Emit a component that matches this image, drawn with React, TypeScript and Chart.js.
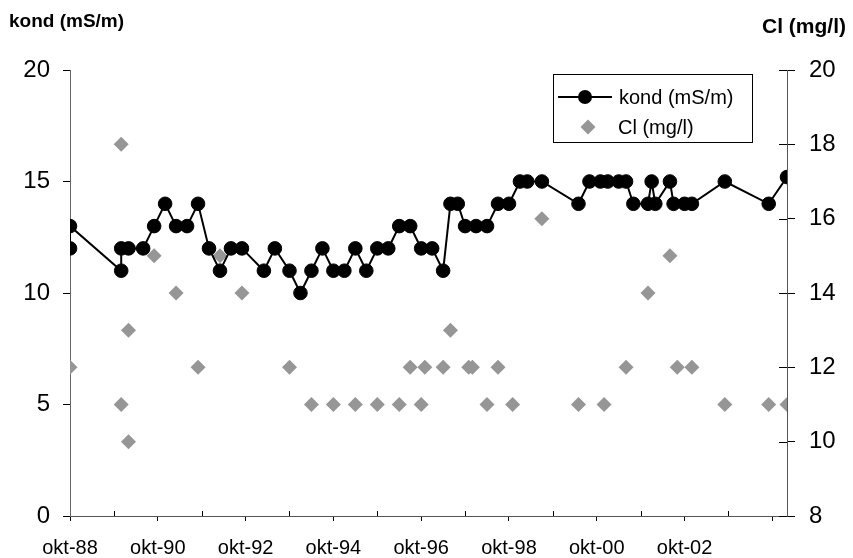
import React, { useEffect, useRef } from "react";
import { Chart, registerables } from "chart.js";

Chart.register(...registerables);

// x values: months since October 1988
const kondMonths = [0, 0, 14, 14, 16, 20, 23, 26, 29, 32, 35, 38, 41, 44, 47, 53, 56, 60, 63, 66, 69, 72, 75, 78, 81, 84, 87, 90, 93, 96, 99, 102, 104, 106, 108, 111, 114, 117, 120, 123, 125, 129, 139, 142, 145, 147, 150, 152, 154, 158, 159, 160, 164, 165, 168, 170, 179, 191, 196];
const kondValues = [12, 13, 11, 12, 12, 12, 13, 14, 13, 13, 14, 12, 11, 12, 12, 11, 12, 11, 10, 11, 12, 11, 11, 12, 11, 12, 12, 13, 13, 12, 12, 11, 14, 14, 13, 13, 13, 14, 14, 15, 15, 15, 14, 15, 15, 15, 15, 15, 14, 14, 15, 14, 15, 14, 14, 14, 15, 14, 15.2];

const clMonths = [0, 14, 14, 16, 16, 23, 29, 35, 41, 47, 60, 66, 72, 78, 84, 90, 93, 96, 97, 102, 104, 109, 110, 114, 117, 121, 129, 139, 146, 152, 158, 164, 166, 170, 179, 191, 196];
const clValues = [12, 18, 11, 13, 10, 15, 14, 12, 15, 14, 12, 11, 11, 11, 11, 11, 12, 11, 12, 12, 13, 12, 12, 11, 12, 11, 16, 11, 11, 12, 14, 15, 12, 12, 11, 11, 11];

const xTickLabels = ["okt-88", "okt-90", "okt-92", "okt-94", "okt-96", "okt-98", "okt-00", "okt-02"];
const kondLabel = "kond (mS/m)";
const clLabel = "Cl (mg/l)";

const FONT = "'Liberation Sans', Arial, sans-serif";
const GRAY = "#969696";

const extrasPlugin = {
  id: "extras",
  afterDraw(chart: any) {
    const ctx = chart.ctx as CanvasRenderingContext2D;
    const xs = chart.scales.x;
    const yR = chart.scales.y1;
    const area = chart.chartArea;
    ctx.save();
    // minor ticks (inside) on x axis
    ctx.strokeStyle = "#000";
    ctx.lineWidth = 1;
    for (let m = 12; m < xs.max; m += 24) {
      const px = Math.round(xs.getPixelForValue(m)) + 0.5;
      ctx.beginPath();
      ctx.moveTo(px, area.bottom);
      ctx.lineTo(px, area.bottom - 5);
      ctx.stroke();
    }
    // inner half of right axis ticks
    for (let v = yR.min; v <= yR.max; v += 2) {
      const py = Math.round(yR.getPixelForValue(v)) + 0.5;
      ctx.beginPath();
      ctx.moveTo(area.right - 8, py);
      ctx.lineTo(area.right, py);
      ctx.stroke();
    }
    // axis titles
    ctx.fillStyle = "#000";
    ctx.textBaseline = "middle";
    ctx.font = `bold 19px ${FONT}`;
    ctx.textAlign = "left";
    ctx.fillText(kondLabel, 9, 22);
    ctx.font = `bold 21px ${FONT}`;
    ctx.textAlign = "right";
    ctx.fillText(clLabel, 846, 27);
    // legend
    ctx.fillStyle = "#fff";
    ctx.fillRect(553.5, 74.5, 199, 68);
    ctx.strokeStyle = "#000";
    ctx.strokeRect(553.5, 74.5, 199, 68);
    ctx.lineWidth = 2;
    ctx.beginPath();
    ctx.moveTo(558, 97);
    ctx.lineTo(612, 97);
    ctx.stroke();
    ctx.fillStyle = "#000";
    ctx.beginPath();
    ctx.arc(585, 97, 7, 0, Math.PI * 2);
    ctx.fill();
    ctx.fillStyle = GRAY;
    ctx.beginPath();
    ctx.moveTo(588, 119.5);
    ctx.lineTo(595.5, 127);
    ctx.lineTo(588, 134.5);
    ctx.lineTo(580.5, 127);
    ctx.closePath();
    ctx.fill();
    ctx.fillStyle = "#000";
    ctx.font = `20px ${FONT}`;
    ctx.textAlign = "left";
    ctx.fillText(kondLabel, 619, 98);
    ctx.fillText(clLabel, 618, 128);
    ctx.restore();
  },
};

export default function App() {
  const ref = useRef<HTMLCanvasElement | null>(null);
  useEffect(() => {
    if (!ref.current) return;
    Chart.defaults.font.family = FONT;
    const chart = new Chart(ref.current, {
      type: "line",
      data: {
        datasets: [
          {
            label: kondLabel,
            data: kondMonths.map((m, i) => ({ x: m, y: kondValues[i] })),
            yAxisID: "y",
            borderColor: "#000",
            borderWidth: 2,
            pointRadius: 6.8,
            pointBackgroundColor: "#000",
            pointBorderColor: "#000",
            pointBorderWidth: 1,
            tension: 0,
          },
          {
            label: clLabel,
            data: clMonths.map((m, i) => ({ x: m, y: clValues[i] })),
            yAxisID: "y1",
            showLine: false,
            pointStyle: "rectRot",
            pointRadius: 7.5,
            pointBackgroundColor: GRAY,
            pointBorderColor: GRAY,
            pointBorderWidth: 0,
          },
        ],
      },
      options: {
        animation: false,
        responsive: false,
        devicePixelRatio: 1,
        layout: { padding: { top: 70, left: 0, right: 0, bottom: 0 } },
        plugins: { legend: { display: false }, tooltip: { enabled: false }, title: { display: false } },
        scales: {
          x: {
            type: "linear",
            min: 0,
            max: 196,
            afterFit: (s: any) => { s.height = 42; },
            border: { display: true, color: "#555", width: 1 },
            grid: {
              drawOnChartArea: false,
              drawTicks: true,
              tickLength: 5,
              color: (c: any) => (c.tick && c.tick.value % 24 === 0 ? "#000" : "rgba(0,0,0,0)"),
            },
            ticks: {
              stepSize: 12,
              includeBounds: false,
              autoSkip: false,
              maxRotation: 0,
              padding: 15,
              color: "#000",
              font: { size: 20 },
              callback: (v: any) => {
                const n = Number(v);
                if (n % 24 !== 0) return "";
                return xTickLabels[n / 24] ?? "";
              },
            },
          },
          y: {
            position: "left",
            min: 0,
            max: 20,
            afterFit: (s: any) => { s.width = 70; },
            border: { display: true, color: "#666", width: 1 },
            grid: { drawOnChartArea: false, tickLength: 7, color: "#000" },
            ticks: { stepSize: 5, padding: 13, color: "#000", font: { size: 24 } },
          },
          y1: {
            position: "right",
            min: 8,
            max: 20,
            afterFit: (s: any) => { s.width = 66; },
            border: { display: true, color: "#555", width: 1 },
            grid: { drawOnChartArea: false, tickLength: 8, color: "#000" },
            ticks: { stepSize: 2, padding: 14, color: "#000", font: { size: 24 } },
          },
        },
      },
      plugins: [extrasPlugin],
    } as any);
    return () => chart.destroy();
  }, []);
  return (
    <div style={{ position: "fixed", left: 0, top: 0, width: 853, height: 558, background: "#fff" }}>
      <canvas ref={ref} width={853} height={558} style={{ width: 853, height: 558, display: "block" }} />
    </div>
  );
}
